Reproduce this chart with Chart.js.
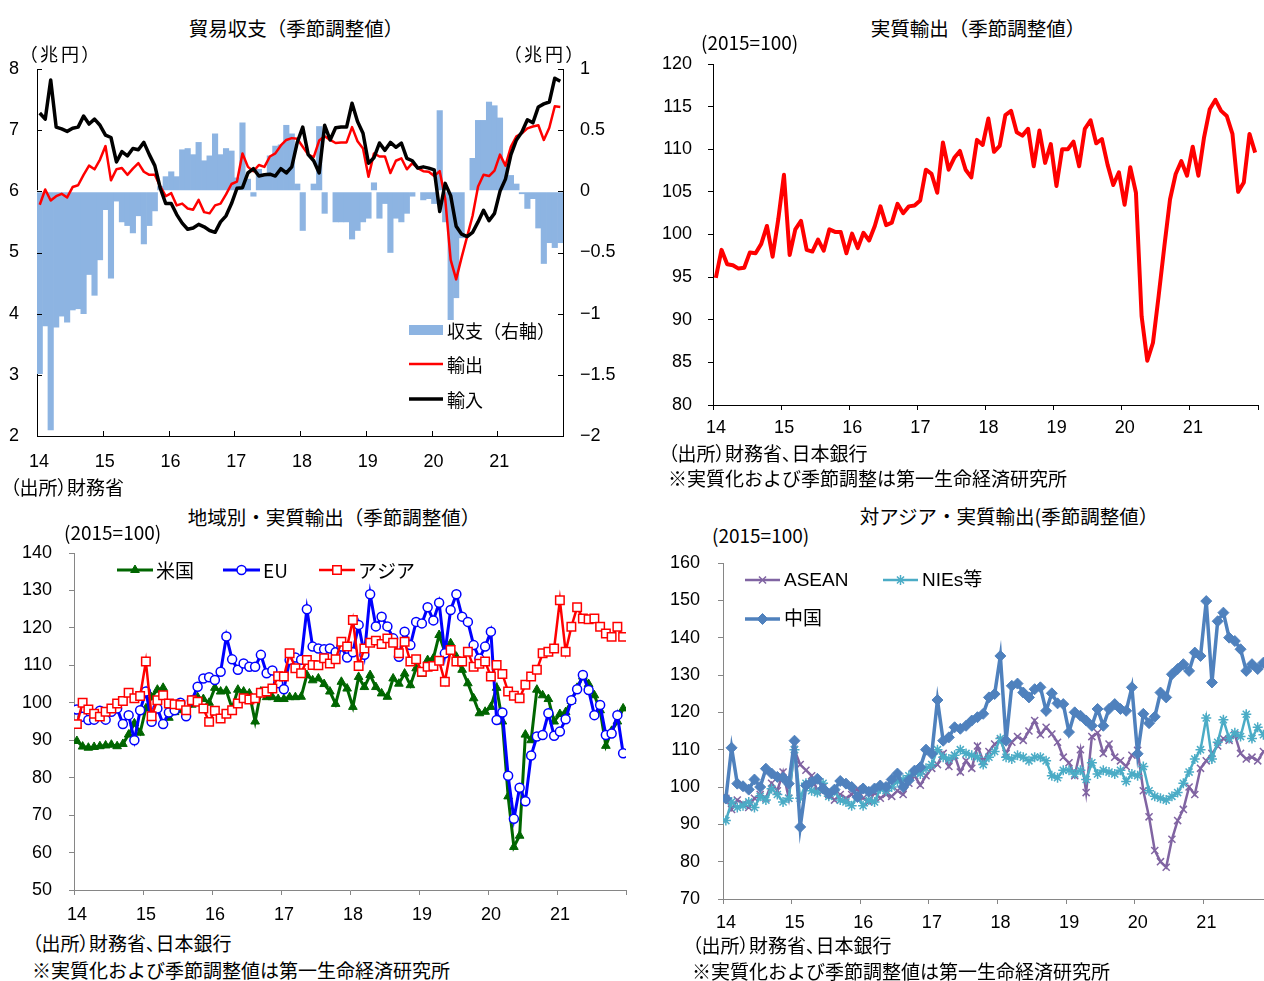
<!DOCTYPE html>
<html lang="ja">
<head>
<meta charset="utf-8">
<title>貿易統計・実質輸出</title>
<script src="https://cdn.jsdelivr.net/npm/chart.js@4.4.1/dist/chart.umd.min.js"></script>
<style>
  html, body { margin: 0; padding: 0; background: #fff; overflow: hidden; }
  .wrap { position: relative; width: 1264px; height: 981px; overflow: hidden; background: #fff; }
  canvas { position: absolute; }
  .t { position: absolute; white-space: nowrap; color: #000; line-height: 1;
       font-family: "Noto Sans CJK JP", "Noto Sans", sans-serif; }
  .p { font-feature-settings: "palt"; }
  .c { transform: translateX(-50%); }
</style>
</head>
<body>
<div class="wrap">
  <canvas id="trade" width="632" height="417" style="left:0;top:59px"></canvas>
  <canvas id="real" width="624" height="386" style="left:640px;top:54px"></canvas>
  <canvas id="region" width="640" height="382" style="left:0;top:543px"></canvas>
  <canvas id="asia" width="634" height="381" style="left:640px;top:553px"></canvas>

  <div class="t c" style="left:296px;top:18px;font-size:19.5px">貿易収支（季節調整値）</div>
  <div class="t p" style="left:28px;top:44px;font-size:18px;letter-spacing:3px">（兆円）</div>
  <div class="t p" style="left:512px;top:44px;font-size:18px;letter-spacing:3px">（兆円）</div>
  <div class="t p" style="left:10px;top:477px;font-size:19px">（出所）財務省</div>

  <div class="t c" style="left:978px;top:18px;font-size:19.5px">実質輸出（季節調整値）</div>
  <div class="t" style="left:701px;top:32px;font-size:19px">(2015=100)</div>
  <div class="t p" style="left:668px;top:443px;font-size:19px">（出所）財務省、日本銀行</div>
  <div class="t" style="left:668px;top:468px;font-size:19px">※実質化および季節調整は第一生命経済研究所</div>

  <div class="t c" style="left:334px;top:507px;font-size:19.5px">地域別・実質輸出（季節調整値）</div>
  <div class="t" style="left:64px;top:522px;font-size:19px">(2015=100)</div>
  <div class="t p" style="left:32px;top:933px;font-size:19px">（出所）財務省、日本銀行</div>
  <div class="t" style="left:32px;top:960px;font-size:19px">※実質化および季節調整値は第一生命経済研究所</div>

  <div class="t c" style="left:1009px;top:506px;font-size:19.5px">対アジア・実質輸出(季節調整値）</div>
  <div class="t" style="left:712px;top:525px;font-size:19px">(2015=100)</div>
  <div class="t p" style="left:692px;top:935px;font-size:19px">（出所）財務省、日本銀行</div>
  <div class="t" style="left:692px;top:961px;font-size:19px">※実質化および季節調整値は第一生命経済研究所</div>
</div>

<script>
// ---- Monthly data, Jan 2014 - Dec 2021 ----
const yearLabels = ['14', '15', '16', '17', '18', '19', '20', '21'];

// 貿易収支（兆円, 季節調整値）
const tradeExports = [
  5.78, 6.03, 5.85, 5.92, 5.96, 5.90, 6.07, 6.10, 6.27, 6.42, 6.36, 6.52,
  6.74, 6.18, 6.36, 6.38, 6.27, 6.37, 6.46, 6.32, 6.27, 6.27, 6.08, 5.92,
  5.97, 5.77, 5.80, 5.72, 5.70, 5.86, 5.66, 5.64, 5.77, 5.80, 5.95, 6.12,
  6.16, 6.62, 6.40, 6.33, 6.43, 6.40, 6.57, 6.62, 6.75, 6.84, 6.87, 6.86,
  6.73, 6.60, 6.56, 6.83, 6.90, 6.84, 6.79, 6.80, 6.80, 7.05, 6.82, 6.70,
  6.24, 6.62, 6.57, 6.57, 6.30, 6.50, 6.54, 6.36, 6.46, 6.38, 6.33, 6.32,
  6.25, 6.33, 5.88, 4.88, 4.56, 4.92, 5.26, 5.60, 6.08, 6.27, 6.25, 6.34,
  6.60, 6.42, 6.73, 6.90, 6.95, 7.03, 7.06, 7.08, 6.84, 7.04, 7.39, 7.38
];
const tradeImports = [
  7.28, 7.18, 7.82, 7.05, 7.02, 6.98, 7.03, 7.05, 7.23, 7.10, 7.18, 7.08,
  6.92, 6.88, 6.48, 6.65, 6.58, 6.70, 6.68, 6.80, 6.60, 6.42, 6.05, 5.80,
  5.80, 5.62, 5.48, 5.38, 5.40, 5.46, 5.42, 5.36, 5.33, 5.50, 5.60, 5.80,
  6.05, 6.06, 6.30, 6.37, 6.25, 6.27, 6.28, 6.25, 6.37, 6.30, 6.40, 6.80,
  7.05, 6.60, 6.50, 6.30, 7.08, 6.84, 7.04, 7.05, 7.05, 7.44, 7.14, 6.95,
  6.46, 6.55, 6.79, 6.67, 6.80, 6.72, 6.79, 6.54, 6.50, 6.38, 6.40, 6.38,
  6.35, 5.67, 6.13, 5.93, 5.43, 5.30, 5.26, 5.33, 5.50, 5.69, 5.52, 5.64,
  6.00, 6.20, 6.60, 6.84, 6.97, 7.17, 7.12, 7.38, 7.43, 7.46, 7.85, 7.80
];
const tradeBalance = [
  -1.49, -1.10, -1.95, -1.11, -1.02, -1.07, -0.97, -0.96, -1.00, -0.68, -0.85, -0.56,
  -0.15, -0.71, -0.08, -0.25, -0.28, -0.34, -0.20, -0.43, -0.28, -0.16, 0.04, 0.12,
  0.16, 0.12, 0.34, 0.35, 0.30, 0.40, 0.25, 0.29, 0.47, 0.30, 0.35, 0.33,
  0.11, 0.56, 0.10, -0.04, 0.18, 0.13, 0.29, 0.37, 0.38, 0.54, 0.47, 0.06,
  -0.32, 0.00, 0.06, 0.53, -0.18, 0.00, -0.25, -0.25, -0.25, -0.39, -0.32, -0.25,
  -0.22, 0.07, -0.22, -0.10, -0.50, -0.22, -0.25, -0.18, -0.04, 0.00, -0.07, -0.06,
  -0.10, 0.66, -0.25, -1.05, -0.87, -0.38, 0.00, 0.27, 0.58, 0.58, 0.73, 0.70,
  0.60, 0.22, 0.13, 0.06, -0.02, -0.14, -0.06, -0.30, -0.59, -0.42, -0.46, -0.42
];

// 実質輸出（2015=100）
const realExports = [
  94.9, 98.2, 96.5, 96.4, 96.0, 96.1, 97.9, 97.8, 98.9, 101.0, 97.4, 101.8,
  107.0, 97.6, 100.6, 101.6, 98.2, 98.0, 99.4, 98.1, 100.6, 100.3, 100.3, 97.8,
  100.1, 98.4, 100.2, 99.3, 101.0, 103.3, 101.1, 101.4, 103.6, 102.5, 103.3, 103.4,
  104.0, 107.6, 107.1, 104.9, 110.8, 107.6, 109.0, 109.8, 107.6, 106.7, 111.1, 110.5,
  113.6, 109.7, 110.4, 114.0, 114.5, 112.0, 111.6, 112.4, 108.0, 112.2, 108.4, 110.6,
  105.7, 110.0, 110.0, 110.9, 108.0, 112.4, 113.4, 110.7, 111.2, 108.2, 105.8, 107.3,
  103.5, 107.9, 104.9, 90.4, 85.2, 87.3, 92.8, 98.6, 104.1, 107.1, 108.6, 106.9,
  110.3, 106.9, 111.4, 114.7, 115.8, 114.5, 113.9, 111.8, 105.0, 106.1, 111.8, 109.6
];

// 地域別・実質輸出（2015=100）
const usExports = [
  89.8, 88.3, 88.0, 88.2, 88.4, 88.6, 88.8, 88.4, 89.0, 91.5, 94.5, 92.0,
  98.5, 101.5, 103.5, 104.0, 96.0, 97.5, 98.0, 97.5, 99.5, 101.5, 101.0, 100.0,
  104.0, 103.0, 103.2, 98.5, 103.5, 103.0, 102.5, 95.0, 103.0, 101.5, 101.5, 101.0,
  101.0, 101.5, 101.5, 101.6, 107.4, 106.0, 106.5, 105.0, 103.0, 99.7, 105.6, 103.8,
  98.9, 106.9, 104.2, 107.4, 104.2, 102.5, 101.6, 106.5, 105.1, 107.8, 104.7, 109.2,
  107.7, 111.4, 111.9, 118.1, 113.6, 115.9, 112.3, 108.8, 105.2, 101.2, 97.2, 97.6,
  98.9, 104.0, 95.0, 75.0, 61.5, 64.5, 91.5, 90.0, 103.5, 102.0, 101.0, 95.0,
  97.0, 97.5, 100.5, 104.0, 107.0, 105.0, 102.0, 98.0, 88.5, 92.5, 95.0, 98.5
];
const euExports = [
  98.2, 96.3, 95.4, 95.5, 97.9, 95.5, 97.6, 98.5, 94.3, 96.7, 90.0, 98.0,
  103.0, 94.9, 98.5, 94.3, 97.4, 98.0, 100.0, 96.4, 100.7, 104.3, 106.5, 106.8,
  106.1, 108.3, 117.7, 111.6, 108.8, 110.5, 109.6, 109.6, 112.8, 107.9, 108.6, 105.2,
  103.6, 111.4, 112.1, 111.5, 125.0, 115.0, 114.5, 114.3, 114.5, 113.5, 115.0, 112.1,
  113.5, 120.8, 112.8, 129.0, 120.4, 123.0, 120.4, 117.2, 112.3, 119.0, 115.4, 121.6,
  121.2, 125.5, 122.0, 126.7, 113.2, 124.8, 129.0, 123.0, 121.6, 115.4, 111.8, 115.0,
  119.0, 95.4, 97.4, 80.5, 69.0, 77.3, 73.7, 85.9, 91.0, 91.4, 97.2, 91.2,
  92.3, 95.6, 100.7, 103.6, 107.4, 103.4, 96.7, 99.4, 91.4, 91.8, 96.7, 86.5
];
const asiaExports = [
  94.3, 100.0, 98.2, 97.1, 96.3, 97.6, 98.5, 99.8, 100.5, 102.7, 101.2, 101.8,
  111.0, 96.4, 100.7, 102.0, 99.8, 99.6, 99.4, 98.0, 100.7, 100.3, 98.5, 94.9,
  97.9, 95.8, 97.1, 98.0, 99.8, 101.2, 100.9, 101.2, 102.7, 103.0, 103.8, 107.1,
  107.0, 113.2, 109.2, 107.9, 111.4, 110.1, 110.0, 111.9, 110.5, 111.6, 116.3, 115.0,
  122.1, 109.8, 114.5, 116.0, 116.6, 115.7, 117.2, 116.0, 113.2, 116.3, 111.0, 111.6,
  108.3, 109.6, 109.8, 111.2, 105.6, 114.1, 111.0, 111.0, 113.6, 109.6, 110.4, 111.0,
  107.0, 110.1, 107.7, 103.0, 101.9, 101.2, 104.8, 107.0, 108.8, 113.2, 113.6, 114.5,
  127.4, 113.6, 120.3, 125.5, 122.5, 122.3, 122.5, 120.3, 118.5, 117.6, 120.3, 117.6
];

// 対アジア・実質輸出（2015=100）
const aseanExports = [
  97.0, 94.0, 96.5, 95.5, 94.5, 97.0, 98.0, 97.0, 101.0, 99.0, 104.0, 97.0,
  110.0, 106.0, 104.5, 103.0, 99.0, 100.0, 98.0, 96.5, 98.0, 97.0, 98.0, 99.5,
  97.0, 96.0, 98.5, 97.0, 98.0, 97.5, 99.0, 98.0, 101.0, 103.0, 100.5, 103.0,
  105.0, 106.0, 109.0, 105.5, 108.5, 104.0, 107.0, 105.0, 111.0, 107.0, 109.5, 111.5,
  112.5, 109.0, 112.0, 113.5, 112.5, 115.0, 117.8, 114.0, 116.0, 114.2, 112.0, 108.0,
  106.5, 103.0, 110.0, 98.5, 113.5, 114.5, 109.0, 111.5, 108.0, 107.0, 105.5, 108.5,
  109.8, 99.0, 92.0, 83.0, 80.0, 78.5, 86.0, 91.0, 94.0, 100.0, 98.0, 105.0,
  107.0, 109.0, 111.0, 113.0, 112.5, 114.0, 109.0, 107.5, 108.0, 107.0, 109.5, 110.0
];
const niesExports = [
  91.0, 96.0, 94.5, 95.0, 96.0, 94.5, 97.5, 96.5, 99.5, 98.0, 96.0, 97.0,
  110.0, 97.0, 101.0, 99.0, 98.5, 101.0, 97.5, 99.0, 96.5, 96.0, 95.0, 97.5,
  95.0, 96.5, 96.0, 99.5, 99.0, 100.0, 101.5, 102.0, 103.0, 104.0, 103.5, 105.0,
  106.0, 110.0, 108.0, 107.5, 108.5, 110.0, 109.0, 108.5, 108.0, 106.0, 108.0, 109.5,
  113.0, 108.0, 107.5, 108.5, 108.0, 107.0, 108.0, 108.0, 107.0, 103.0, 102.5, 104.5,
  104.5, 103.5, 104.5, 102.0, 106.5, 103.5, 104.5, 104.0, 103.5, 104.5, 101.5, 103.5,
  103.0, 105.5, 99.0, 97.5, 97.0, 96.5, 97.5, 98.5, 101.0, 104.0, 107.5, 110.0,
  118.5, 107.5, 112.0, 118.0, 113.0, 114.5, 113.5, 119.5, 113.0, 116.0, 114.0, 115.0
];
const chinaExports = [
  96.9, 110.5, 100.9, 100.2, 99.3, 102.0, 100.0, 104.9, 103.6, 102.7, 102.5, 100.9,
  112.4, 89.3, 100.4, 101.3, 102.2, 99.6, 98.2, 99.3, 101.6, 100.9, 100.0, 97.3,
  99.6, 98.7, 99.6, 100.4, 100.0, 102.0, 103.6, 100.0, 101.8, 104.4, 105.3, 110.0,
  108.9, 123.3, 112.4, 113.3, 116.0, 115.6, 116.4, 117.8, 118.7, 119.6, 124.0, 124.9,
  135.1, 112.4, 127.1, 127.7, 125.3, 124.0, 126.2, 126.7, 120.4, 125.1, 122.4, 122.2,
  114.7, 120.0, 119.1, 117.8, 116.4, 120.9, 116.4, 120.9, 122.2, 120.9, 120.4, 126.7,
  108.9, 119.6, 117.1, 118.8, 125.3, 124.0, 130.2, 131.6, 132.9, 131.1, 136.0, 135.1,
  149.8, 128.0, 144.4, 146.7, 140.0, 139.1, 136.9, 131.1, 132.9, 131.6, 133.3, 132.5
];

// ---- helpers ----
Chart.defaults.font.family = "'Liberation Sans', 'Noto Sans CJK JP', sans-serif";
Chart.defaults.color = '#000';

// each month sits in the middle of its slot on a 0..96 month axis
const monthPoints = arr => arr.map((v, i) => ({ x: i + 0.5, y: v }));
const yearTickValues = yearLabels.map((_, k) => k * 12).concat([yearLabels.length * 12]);
const signed = v => (v < 0 ? '\u2212' + Math.abs(v) : String(v));

// fixed axis sizes so every plot area lands in the same place
function noOverflow(s) { s.paddingTop = 0; s.paddingBottom = 0; s.paddingLeft = 0; s.paddingRight = 0; }

function monthAxis(o) {
  return {
    type: 'linear', min: 0, max: yearLabels.length * 12, offset: false,
    afterBuildTicks: s => { s.ticks = yearTickValues.map(v => ({ value: v })); },
    afterFit: s => { s.height = o.height; noOverflow(s); },
    ticks: {
      autoSkip: false, maxRotation: 0, minRotation: 0, padding: o.padding,
      labelOffset: o.labelOffset, font: { size: 18 }, color: '#000',
      callback: (v, i) => (yearLabels[i] !== undefined ? yearLabels[i] : '')
    },
    grid: { display: o.outTicks, drawOnChartArea: false, drawTicks: o.outTicks,
            tickLength: 5, tickColor: o.color, offset: false },
    border: { display: true, color: o.color, width: 1 }
  };
}
function valueAxis(o) {
  return {
    type: 'linear', position: o.position || 'left', min: o.min, max: o.max,
    afterFit: s => { s.width = o.width; noOverflow(s); },
    ticks: { stepSize: o.step, padding: o.padding, font: { size: 18 }, color: '#000',
             callback: o.fmt || (v => v) },
    grid: { display: o.outTicks, drawOnChartArea: false, drawTicks: o.outTicks,
            tickLength: 5, tickColor: o.color },
    border: { display: true, color: o.color, width: 1 }
  };
}
function baseOptions(padding) {
  return {
    responsive: false, maintainAspectRatio: false, animation: false, events: [],
    layout: { autoPadding: false, padding },
    plugins: { legend: { display: false }, tooltip: { enabled: false } }
  };
}

// tick marks pointing into the plot area
const innerTicks = {
  id: 'innerTicks',
  afterDraw(chart, args, opts) {
    if (!opts.enabled) return;
    const { ctx, chartArea: a, scales } = chart;
    const L = 5;
    ctx.save();
    ctx.strokeStyle = opts.color || '#000';
    ctx.lineWidth = 1;
    ctx.beginPath();
    scales.y.ticks.forEach(t => {
      const y = Math.round(scales.y.getPixelForValue(t.value)) + 0.5;
      ctx.moveTo(a.left, y); ctx.lineTo(a.left + L, y);
    });
    if (scales.y2) scales.y2.ticks.forEach(t => {
      const y = Math.round(scales.y2.getPixelForValue(t.value)) + 0.5;
      ctx.moveTo(a.right, y); ctx.lineTo(a.right - L, y);
    });
    scales.x.ticks.forEach(t => {
      const x = Math.round(scales.x.getPixelForValue(t.value)) + 0.5;
      ctx.moveTo(x, a.bottom); ctx.lineTo(x, a.bottom - L);
    });
    ctx.stroke();
    ctx.restore();
  }
};

// white zero line on the secondary axis, laid over the bars
const zeroLine = {
  id: 'zeroLine',
  afterDatasetDraw(chart, args, opts) {
    if (opts.dataset === undefined || args.index !== opts.dataset) return;
    const s = chart.scales[opts.axis];
    const a = chart.chartArea;
    const y = s.getPixelForValue(0);
    const ctx = chart.ctx;
    ctx.save();
    ctx.strokeStyle = '#fff';
    ctx.lineWidth = 2;
    ctx.beginPath(); ctx.moveTo(a.left, y); ctx.lineTo(a.right, y); ctx.stroke();
    ctx.restore();
  }
};

// legend placed inside the plot
const insetLegend = {
  id: 'insetLegend',
  afterDraw(chart, args, opts) {
    if (!opts.items) return;
    const ctx = chart.ctx;
    ctx.save();
    ctx.font = opts.font;
    ctx.textBaseline = 'middle';
    ctx.textAlign = 'left';
    opts.items.forEach(it => {
      const ds = chart.data.datasets[it.ds];
      const x0 = it.x, x1 = it.x + it.w, y = it.y;
      if (ds.type === 'bar') {
        ctx.fillStyle = ds.backgroundColor;
        ctx.fillRect(x0, y - 5, it.w, 10);
      } else {
        ctx.strokeStyle = ds.borderColor;
        ctx.lineWidth = ds.borderWidth;
        ctx.beginPath(); ctx.moveTo(x0, y); ctx.lineTo(x1, y); ctx.stroke();
        if (ds.pointRadius > 0) {
          ctx.fillStyle = ds.pointBackgroundColor;
          ctx.strokeStyle = ds.pointBorderColor;
          ctx.lineWidth = ds.pointBorderWidth;
          Chart.helpers.drawPoint(ctx, {
            pointStyle: ds.pointStyle, radius: ds.pointRadius, rotation: 0,
            borderWidth: ds.pointBorderWidth
          }, (x0 + x1) / 2, y);
        }
      }
      ctx.fillStyle = '#000';
      ctx.fillText(ds.label, x1 + (opts.gap || 3), y + 1);
    });
    ctx.restore();
  }
};

Chart.register(innerTicks, zeroLine, insetLegend);

// ---- 貿易収支 ----
new Chart(document.getElementById('trade'), {
  type: 'bar',
  data: {
    datasets: [
      { type: 'bar', label: '収支（右軸）', data: monthPoints(tradeBalance), yAxisID: 'y2',
        backgroundColor: '#8db4e2', borderWidth: 0, barPercentage: 1, categoryPercentage: 1, order: 3 },
      { type: 'line', label: '輸出', data: monthPoints(tradeExports), yAxisID: 'y',
        borderColor: '#ff0000', borderWidth: 2.5, pointRadius: 0, borderJoinStyle: 'round', order: 2 },
      { type: 'line', label: '輸入', data: monthPoints(tradeImports), yAxisID: 'y',
        borderColor: '#000000', borderWidth: 3.5, pointRadius: 0, borderJoinStyle: 'round', order: 1 }
    ]
  },
  options: Object.assign(baseOptions({ top: 10, left: 0, right: 0, bottom: 0 }), {
    scales: {
      x: monthAxis({ height: 40, padding: 15, labelOffset: 2, outTicks: false, color: '#000' }),
      y: valueAxis({ min: 2, max: 8, step: 1, width: 37, padding: 18, outTicks: false, color: '#000' }),
      y2: valueAxis({ position: 'right', min: -2, max: 1, step: 0.5, width: 69, padding: 17,
                      outTicks: false, color: '#000', fmt: signed })
    },
    plugins: {
      legend: { display: false }, tooltip: { enabled: false },
      innerTicks: { enabled: true, color: '#000' },
      zeroLine: { dataset: 0, axis: 'y2' },
      insetLegend: {
        font: "18px 'Noto Sans CJK JP', sans-serif", gap: 4,
        items: [
          { ds: 0, x: 409, y: 271, w: 34 },
          { ds: 1, x: 409, y: 305, w: 34 },
          { ds: 2, x: 409, y: 340, w: 34 }
        ]
      }
    }
  })
});

// ---- 実質輸出 ----
new Chart(document.getElementById('real'), {
  type: 'line',
  data: {
    datasets: [
      { label: '実質輸出', data: monthPoints(realExports), borderColor: '#ff0000',
        borderWidth: 4, pointRadius: 0, borderJoinStyle: 'round' }
    ]
  },
  options: Object.assign(baseOptions({ top: 10, left: 0, right: 6, bottom: 0 }), {
    scales: {
      x: monthAxis({ height: 35, padding: 7, labelOffset: 3, outTicks: true, color: '#000' }),
      y: valueAxis({ min: 80, max: 120, step: 5, width: 73, padding: 16, outTicks: true, color: '#000' })
    }
  })
});

// ---- 地域別・実質輸出 ----
new Chart(document.getElementById('region'), {
  type: 'line',
  data: {
    datasets: [
      { label: '米国', data: monthPoints(usExports), borderColor: '#006600', borderWidth: 3,
        pointStyle: 'triangle', pointRadius: 5, pointBackgroundColor: '#006600',
        pointBorderColor: '#006600', pointBorderWidth: 1, order: 3 },
      { label: 'EU', data: monthPoints(euExports), borderColor: '#0000ff', borderWidth: 3,
        pointStyle: 'circle', pointRadius: 4.5, pointBackgroundColor: '#ffffff',
        pointBorderColor: '#0000ff', pointBorderWidth: 1.5, order: 2 },
      { label: 'アジア', data: monthPoints(asiaExports), borderColor: '#ff0000', borderWidth: 2.5,
        pointStyle: 'rect', pointRadius: 6, pointBackgroundColor: '#ffffff',
        pointBorderColor: '#ff0000', pointBorderWidth: 1.5, order: 1 }
    ]
  },
  options: Object.assign(baseOptions({ top: 10, left: 0, right: 14, bottom: 0 }), {
    scales: {
      x: monthAxis({ height: 35, padding: 9, labelOffset: 3, outTicks: true, color: '#868686' }),
      y: valueAxis({ min: 50, max: 140, step: 10, width: 74, padding: 17, outTicks: true, color: '#868686' })
    },
    plugins: {
      legend: { display: false }, tooltip: { enabled: false },
      insetLegend: {
        font: "19px 'Noto Sans CJK JP', sans-serif", gap: 3,
        items: [
          { ds: 0, x: 117, y: 27, w: 36 },
          { ds: 1, x: 223, y: 27, w: 37 },
          { ds: 2, x: 319, y: 27, w: 36 }
        ]
      }
    }
  })
});

// ---- 対アジア・実質輸出 ----
new Chart(document.getElementById('asia'), {
  type: 'line',
  data: {
    datasets: [
      { label: 'ASEAN', data: monthPoints(aseanExports), borderColor: '#8064a2', borderWidth: 2.5,
        pointStyle: 'crossRot', pointRadius: 5, pointBackgroundColor: '#8064a2',
        pointBorderColor: '#8064a2', pointBorderWidth: 1.5, order: 3 },
      { label: 'NIEs等', data: monthPoints(niesExports), borderColor: '#4bacc6', borderWidth: 2.5,
        pointStyle: 'star', pointRadius: 5, pointBackgroundColor: '#4bacc6',
        pointBorderColor: '#4bacc6', pointBorderWidth: 1.5, order: 2 },
      { label: '中国', data: monthPoints(chinaExports), borderColor: '#4f81bd', borderWidth: 3.5,
        pointStyle: 'rectRot', pointRadius: 5.5, pointBackgroundColor: '#4f81bd',
        pointBorderColor: '#4f81bd', pointBorderWidth: 1, order: 1 }
    ]
  },
  options: Object.assign(baseOptions({ top: 10, left: 0, right: 2, bottom: 0 }), {
    scales: {
      x: monthAxis({ height: 35, padding: 8, labelOffset: 3, outTicks: true, color: '#868686' }),
      y: valueAxis({ min: 70, max: 160, step: 10, width: 83, padding: 18, outTicks: true, color: '#868686' })
    },
    plugins: {
      legend: { display: false }, tooltip: { enabled: false },
      insetLegend: {
        font: "19px 'Liberation Sans', 'Noto Sans CJK JP', sans-serif", gap: 4,
        items: [
          { ds: 0, x: 105, y: 27, w: 35 },
          { ds: 1, x: 243, y: 27, w: 35 },
          { ds: 2, x: 105, y: 66, w: 35 }
        ]
      }
    }
  })
});
</script>
</body>
</html>
